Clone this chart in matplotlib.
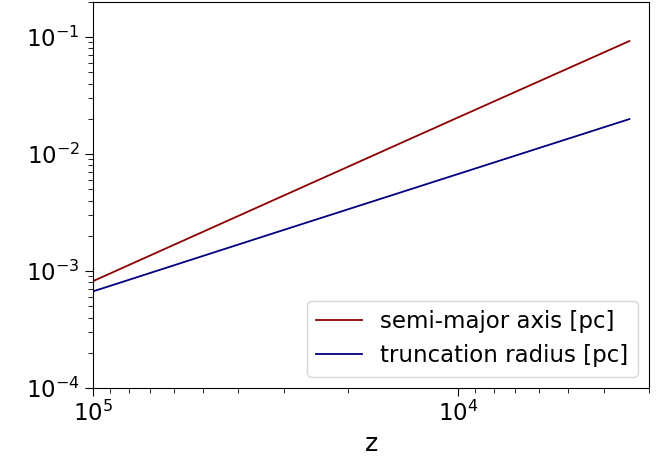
import numpy as np
import matplotlib
matplotlib.use("Agg")
import matplotlib.pyplot as plt

# Values
z_vals = [1e5, 3e4, 1e4, 3400]
semi_major = [8.2e-4, 4.43e-3, 2.06e-2, 9.25e-2]
trunc_radius = [6.7e-4, 2.25e-3, 6.76e-3, 1.99e-2]

fig = plt.figure(figsize=(6.7, 4.68), dpi=100)
ax = fig.add_axes([0.139, 0.171, 0.830, 0.825])

ax.loglog(z_vals, semi_major, color="darkred", lw=1.3, label="semi-major axis [pc]")
ax.loglog(z_vals, trunc_radius, color="navy", lw=1.3, label="truncation radius [pc]")

ax.set_xlim(1e5, 3000)
ax.set_ylim(1e-4, 0.2)
ax.set_xlabel("z", fontsize=18)
ax.tick_params(axis="both", which="major", labelsize=16.5, length=6)
ax.tick_params(axis="both", which="minor", length=3.5)
ax.legend(loc="lower right", fontsize=16.5)

fig.savefig("out.png", dpi=100)
